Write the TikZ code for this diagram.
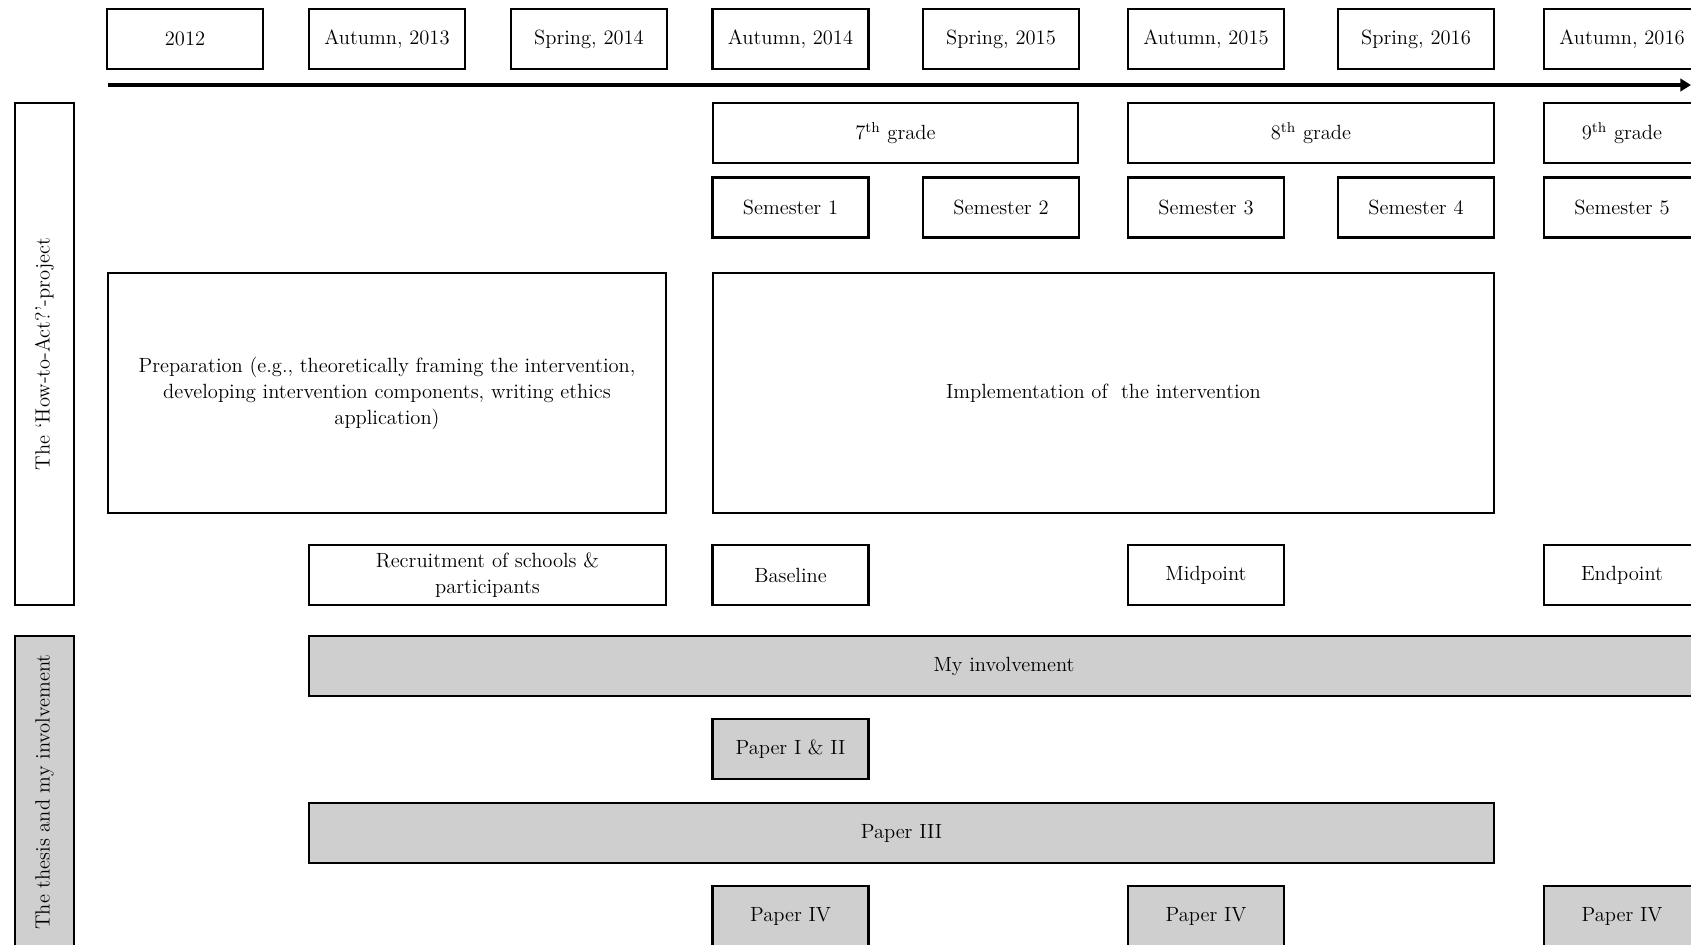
\documentclass[tikz,border=0pt]{standalone}
\usepackage{tikz}
\usetikzlibrary{arrows.meta}

\definecolor{papergrey}{RGB}{207,207,207}

\tikzset{
  box/.style={draw, line width=1.3pt, minimum width=3.12cm, minimum height=1.2cm,
    inner sep=0pt, align=center, font=\fontsize{11.7}{14.8}\selectfont},
  greybox/.style={box, fill=papergrey},
}

\begin{document}
\begin{tikzpicture}[x=0.02cm, y=-0.02cm]
    \useasboundingbox (0,0) rectangle (1691,944);
    \clip (0,0) rectangle (1691,944);

    % Time line
    \node[box] (t12) at (185,39) {2012};
    \node[box] (au13) at (387,39) {Autumn, 2013};
    \node[box] (sp14) at (589,39) {Spring, 2014};
    \node[box] (au14) at (790.5,39) {Autumn, 2014};
    \node[box] (sp15) at (1001,39) {Spring, 2015};
    \node[box] (au15) at (1206,39) {Autumn, 2015};
    \node[box] (sp16) at (1416,39) {Spring, 2016};
    \node[box] (au16) at (1622,39) {Autumn, 2016};

    \coordinate (tstart) at (108,85);
    \coordinate (tend) at (1691,85);
    \draw[line width=2.3pt, -{Triangle[length=6pt, width=7pt]}] (tstart) -- (tend);

    % Side labels
    \node[box, rotate=90, minimum width=10.03cm, minimum height=1.18cm] (proj) at (44.5,354) {The ‘How-to-Act?’-project};
    \node[greybox, rotate=90, minimum width=6.24cm, minimum height=1.18cm] (thesis) at (44.5,792) {The thesis and my involvement};

    % Grades
    \node[box, minimum width=7.3cm] (gr7) at (895.5,133) {7\textsuperscript{th} grade};
    \node[box, minimum width=7.32cm] (gr8) at (1311,133) {8\textsuperscript{th} grade};
    \node[box] (gr9) at (1622,133) {9\textsuperscript{th} grade};

    % Semesters
    \node[box] (sem1) at (790.5,207.5) {Semester 1};
    \node[box] (sem2) at (1001,207.5) {Semester 2};
    \node[box] (sem3) at (1206,207.5) {Semester 3};
    \node[box] (sem4) at (1416,207.5) {Semester 4};
    \node[box] (sem5) at (1622,207.5) {Semester 5};

    % Project phases
    \node[box, minimum width=11.16cm, minimum height=4.8cm] (prep) at (387,393)
        {Preparation (e.g., theoretically framing the intervention,\\developing intervention components, writing ethics\\application)};
    \node[box, minimum width=15.62cm, minimum height=4.8cm] (impl) at (1103.5,393) {Implementation of \ the intervention};

    % Data collection
    \node[box, minimum width=7.14cm] (recr) at (487.5,575) {Recruitment of schools \&\\participants};
    \node[box] (base) at (790.5,575) {Baseline};
    \node[box] (mid) at (1206,575) {Midpoint};
    \node[box] (endp) at (1622,575) {Endpoint};

    % Thesis
    \node[greybox, minimum width=27.8cm] (invol) at (1004,666) {My involvement};
    \node[greybox] (pap12) at (790.5,749) {Paper I \& II};
    \node[greybox, minimum width=23.7cm] (pap3) at (901.5,833) {Paper III};
    \node[greybox] (pap4a) at (790.5,916) {Paper IV};
    \node[greybox] (pap4b) at (1206,916) {Paper IV};
    \node[greybox] (pap4c) at (1622,916) {Paper IV};
\end{tikzpicture}
\end{document}
